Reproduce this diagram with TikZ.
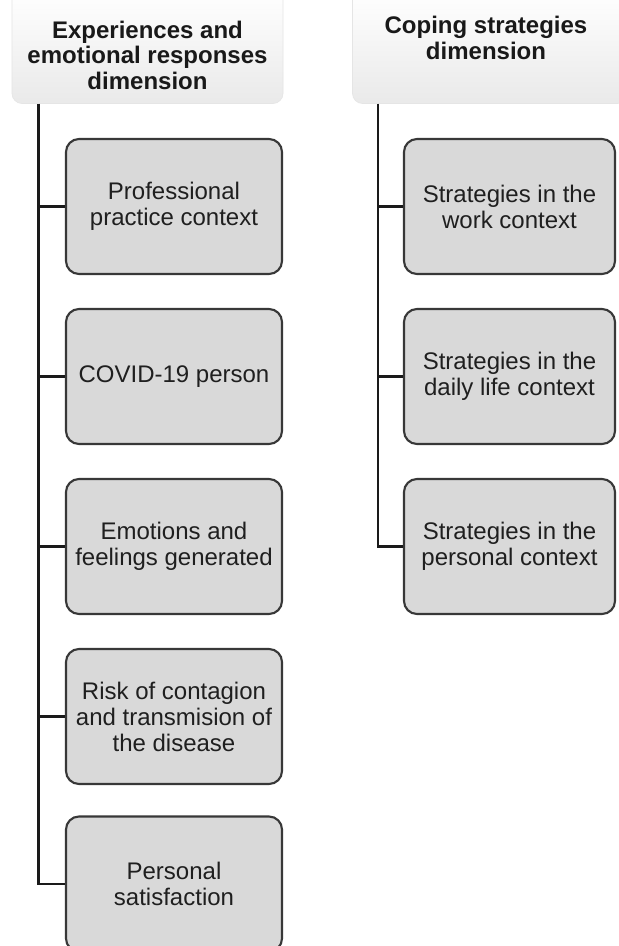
\documentclass[tikz,border=0pt]{standalone}
\usepackage{fontspec}
\setmainfont{Liberation Sans}
\usetikzlibrary{calc}
\definecolor{boxfill}{HTML}{D9D9D9}
\definecolor{boxline}{HTML}{383838}
\definecolor{linkcol}{HTML}{1A1A1A}
\tikzset{
  itembox/.style={draw=boxline, line width=2.1pt, fill=boxfill, rounded corners=13pt,
    align=center, inner sep=0pt, font=\fontsize{24}{26}\selectfont, text=black!88},
  leftbox/.style={itembox, minimum width=216pt, minimum height=135pt},
  rightbox/.style={itembox, minimum width=211pt, minimum height=135pt},
  headbox/.style={draw=gray!20, line width=0.6pt, top color=white, bottom color=gray!17,
    rounded corners=10pt, inner sep=0pt},
  headtext/.style={align=center, font=\bfseries\fontsize{24}{25.5}\selectfont, text=black!90},
  link/.style={draw=linkcol, line width=2.4pt}
}
\begin{document}
\begin{tikzpicture}[x=1pt,y=-1pt]
\useasboundingbox (0,0) rectangle (619,946);
\clip (0,0) rectangle (619,946);
\fill[white] (0,0) rectangle (619,946);
% headers
\node[headbox, minimum width=271pt, minimum height=113pt] (hl) at (147.5,47) {};
\node[headbox, minimum width=275pt, minimum height=113pt] (hr) at (490,47) {};
\node[headtext] (hlt) at (147.5,55) {Experiences and\\emotional responses\\dimension};
\node[headtext] (hrt) at (486,38) {Coping strategies\\dimension};
% left boxes
\node[leftbox] (l1) at (174,206.5) {Professional\\practice context};
\node[leftbox] (l2) at (174,376.5) {COVID-19 person};
\node[leftbox] (l3) at (174,546.5) {Emotions and\\feelings generated};
\node[leftbox] (l4) at (174,716.5) {Risk of contagion\\and transmision of\\the disease};
\node[leftbox] (l5) at (174,884) {Personal\\satisfaction};
% right boxes
\node[rightbox] (r1) at (509.5,206.5) {Strategies in the\\work context};
\node[rightbox] (r2) at (509.5,376.5) {Strategies in the\\daily life context};
\node[rightbox] (r3) at (509.5,546.5) {Strategies in the\\personal context};
% connectors
\coordinate (tl) at (38.5,103.5);
\coordinate (tr) at (378,103.5);
\draw[link] (tl) |- (l5.west);
\foreach \n in {l1,l2,l3,l4} \draw[link] (tl |- \n.west) -- (\n.west);
\draw[link] (tr) |- (r3.west);
\foreach \n in {r1,r2} \draw[link] (tr |- \n.west) -- (\n.west);
\end{tikzpicture}
\end{document}
